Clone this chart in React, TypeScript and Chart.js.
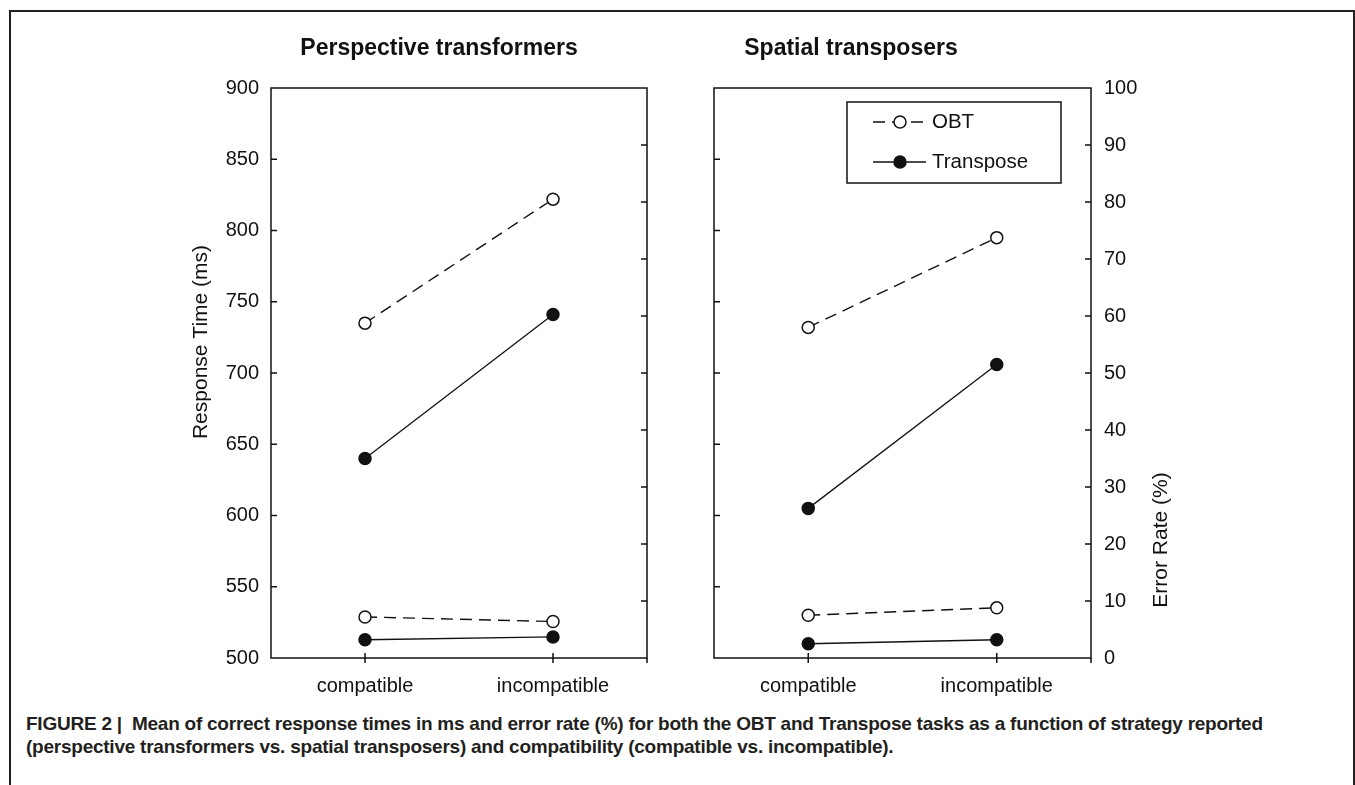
import React, { useEffect, useRef } from 'react';
import { Chart, registerables } from 'chart.js';

Chart.register(...registerables);

// ---------- data ----------
const categories = ['compatible', 'incompatible'];

// Perspective transformers
const ptObtRt = [735, 822];
const ptTransposeRt = [640, 741];
const ptObtErr = [7.2, 6.4];
const ptTransposeErr = [3.2, 3.7];

// Spatial transposers
const stObtRt = [732, 795];
const stTransposeRt = [605, 706];
const stObtErr = [7.5, 8.8];
const stTransposeErr = [2.5, 3.2];

const rtMin = 500;
const rtMax = 900;
const rtStep = 50;
const errMin = 0;
const errMax = 100;
const errStep = 10;

const panelTitles = ['Perspective transformers', 'Spatial transposers'];
const seriesNames = ['OBT', 'Transpose'];
const rtAxisTitle = 'Response Time (ms)';
const errAxisTitle = 'Error Rate (%)';
const captionLines = [
  'FIGURE 2 |  Mean of correct response times in ms and error rate (%) for both the OBT and Transpose tasks as a function of strategy reported',
  '(perspective transformers vs. spatial transposers) and compatibility (compatible vs. incompatible).',
];

// ---------- styles ----------
const INK = '#111111';
const SANS = '"Liberation Sans", Arial, Helvetica, sans-serif';
const TICK_FONT = { family: SANS, size: 20 };

const framePlugin = {
  id: 'frameTicks',
  beforeDatasetsDraw(chart: any) {
    const { ctx, chartArea: a, scales } = chart;
    ctx.save();
    ctx.strokeStyle = INK;
    ctx.lineWidth = 1.5;
    ctx.strokeRect(a.left, a.top, a.right - a.left, a.bottom - a.top);
    const tl = 6;
    ctx.beginPath();
    scales.y.ticks.forEach((t: any) => {
      const py = scales.y.getPixelForValue(t.value);
      if (py > a.top + 1 && py < a.bottom - 1) {
        ctx.moveTo(a.left, py);
        ctx.lineTo(a.left + tl, py);
      }
    });
    scales.y2.ticks.forEach((t: any) => {
      const py = scales.y2.getPixelForValue(t.value);
      if (py > a.top + 1 && py < a.bottom - 1) {
        ctx.moveTo(a.right, py);
        ctx.lineTo(a.right - tl, py);
      }
    });
    scales.x.ticks.forEach((_t: any, i: number) => {
      const px = scales.x.getPixelForTick(i);
      ctx.moveTo(px, a.bottom - 5);
      ctx.lineTo(px, a.bottom + 5);
    });
    ctx.moveTo(a.right, a.bottom);
    ctx.lineTo(a.right, a.bottom + 5);
    ctx.stroke();
    ctx.restore();
  },
};

const axisTitlePlugin = {
  id: 'axisTitleRot',
  afterDraw(chart: any, _args: any, opts: any) {
    if (!opts || !opts.text) return;
    const { ctx, chartArea: a } = chart;
    const x = opts.side === 'left' ? a.left + opts.dx : a.right + opts.dx;
    const y = a.top + opts.dy;
    ctx.save();
    ctx.translate(x, y);
    ctx.rotate(-Math.PI / 2);
    ctx.font = `21px ${SANS}`;
    ctx.fillStyle = INK;
    ctx.textAlign = 'center';
    ctx.textBaseline = 'middle';
    ctx.fillText(opts.text, 0, 0);
    ctx.restore();
  },
};

const boxLegendPlugin = {
  id: 'boxLegend',
  afterDraw(chart: any, _args: any, opts: any) {
    if (!opts || !opts.show) return;
    const { ctx, chartArea: a } = chart;
    const bx = a.left + opts.dx;
    const by = a.top + opts.dy;
    ctx.save();
    ctx.fillStyle = '#ffffff';
    ctx.fillRect(bx, by, opts.w, opts.h);
    ctx.strokeStyle = INK;
    ctx.lineWidth = 1.5;
    ctx.strokeRect(bx, by, opts.w, opts.h);
    chart.data.datasets.slice(0, 2).forEach((d: any, i: number) => {
      const cy = by + opts.rowY[i];
      ctx.strokeStyle = INK;
      ctx.setLineDash(d.borderDash || []);
      ctx.lineWidth = d.borderWidth;
      ctx.beginPath();
      ctx.moveTo(bx + 26, cy);
      ctx.lineTo(bx + 79, cy);
      ctx.stroke();
      ctx.setLineDash([]);
      ctx.beginPath();
      ctx.arc(bx + 53, cy, 6, 0, Math.PI * 2);
      ctx.fillStyle = d.pointBackgroundColor;
      ctx.fill();
      ctx.lineWidth = 1.5;
      ctx.stroke();
      ctx.fillStyle = INK;
      ctx.font = `20.5px ${SANS}`;
      ctx.textAlign = 'left';
      ctx.textBaseline = 'middle';
      ctx.fillText(d.label, bx + 85, cy);
    });
    ctx.restore();
  },
};

function makeDataset(label: string, data: number[], axis: string, dashed: boolean) {
  return {
    label,
    data,
    yAxisID: axis,
    borderColor: INK,
    borderWidth: dashed ? 1.4 : 1.3,
    borderDash: dashed ? [12, 7] : [],
    pointRadius: 6,
    pointHoverRadius: 6,
    pointBorderWidth: 1.5,
    pointBorderColor: INK,
    pointBackgroundColor: dashed ? '#ffffff' : INK,
    fill: false,
    tension: 0,
    clip: false,
  };
}

type PanelProps = {
  title: string;
  obtRt: number[];
  transposeRt: number[];
  obtErr: number[];
  transposeErr: number[];
  left: number;
  width: number;
  leftAxisW: number;
  rightAxisW: number;
  showRtLabels: boolean;
  showErrLabels: boolean;
  axisTitle: any;
  legend: any;
};

const CANVAS_H = 710;

function Panel(p: PanelProps) {
  const ref = useRef<HTMLCanvasElement>(null);
  useEffect(() => {
    const canvas = ref.current;
    if (!canvas) return;
    const chart = new Chart(canvas, {
      type: 'line',
      data: {
        labels: categories,
        datasets: [
          makeDataset(seriesNames[0], p.obtRt, 'y', true),
          makeDataset(seriesNames[1], p.transposeRt, 'y', false),
          makeDataset(seriesNames[0], p.obtErr, 'y2', true),
          makeDataset(seriesNames[1], p.transposeErr, 'y2', false),
        ],
      },
      options: {
        responsive: false,
        animation: false,
        events: [],
        layout: { padding: 0 },
        plugins: {
          legend: { display: false },
          tooltip: { enabled: false },
          title: {
            display: true,
            text: p.title,
            color: INK,
            font: { family: SANS, size: 23, weight: 'bold', lineHeight: 1.2 },
            padding: { top: 35, bottom: 25.4 },
          },
          axisTitleRot: p.axisTitle,
          boxLegend: p.legend,
        } as any,
        scales: {
          x: {
            type: 'category',
            offset: true,
            grid: { display: false, drawTicks: false },
            border: { display: false },
            ticks: { font: TICK_FONT, color: INK, padding: 16, maxRotation: 0 },
            afterFit: (s: any) => {
              s.height = 52;
            },
          },
          y: {
            position: 'left',
            min: rtMin,
            max: rtMax,
            grid: { display: false, drawTicks: false },
            border: { display: false },
            ticks: { stepSize: rtStep, display: p.showRtLabels, font: TICK_FONT, color: INK, padding: 12 },
            afterFit: (s: any) => {
              s.width = p.leftAxisW;
            },
          },
          y2: {
            position: 'right',
            min: errMin,
            max: errMax,
            grid: { display: false, drawTicks: false },
            border: { display: false },
            ticks: { stepSize: errStep, display: p.showErrLabels, font: TICK_FONT, color: INK, padding: 13 },
            afterFit: (s: any) => {
              s.width = p.rightAxisW;
            },
          },
        },
      } as any,
      plugins: [framePlugin, axisTitlePlugin, boxLegendPlugin],
    });
    return () => chart.destroy();
  }, []);
  return (
    <canvas
      ref={ref}
      width={p.width}
      height={CANVAS_H}
      style={{ position: 'absolute', left: p.left, top: 0, width: p.width, height: CANVAS_H, pointerEvents: 'none' }}
    />
  );
}

export default function App() {
  return (
    <div
      style={{
        position: 'absolute',
        left: 0,
        top: 0,
        width: 1355,
        height: 785,
        overflow: 'hidden',
        background: '#ffffff',
      }}
    >
      <div
        style={{
          position: 'absolute',
          left: 9,
          top: 10,
          width: 1346,
          height: 775,
          boxSizing: 'border-box',
          borderTop: '2px solid #231f20',
          borderLeft: '2px solid #231f20',
          borderRight: '2px solid #231f20',
        }}
      />
      <Panel
        title={panelTitles[0]}
        obtRt={ptObtRt}
        transposeRt={ptTransposeRt}
        obtErr={ptObtErr}
        transposeErr={ptTransposeErr}
        left={150}
        width={578}
        leftAxisW={121}
        rightAxisW={81}
        showRtLabels={true}
        showErrLabels={false}
        axisTitle={{ text: rtAxisTitle, side: 'left', dx: -70, dy: 254 }}
        legend={{ show: false }}
      />
      <Panel
        title={panelTitles[1]}
        obtRt={stObtRt}
        transposeRt={stTransposeRt}
        obtErr={stObtErr}
        transposeErr={stTransposeErr}
        left={522}
        width={658}
        leftAxisW={192}
        rightAxisW={89}
        showRtLabels={false}
        showErrLabels={true}
        axisTitle={{ text: errAxisTitle, side: 'right', dx: 70, dy: 452 }}
        legend={{ show: true, dx: 133, dy: 14, w: 214, h: 81, rowY: [20, 60] }}
      />
      <div
        style={{
          position: 'absolute',
          left: 26,
          top: 712,
          fontFamily: '"Liberation Sans Narrow", "Arial Narrow", "Liberation Sans", Arial, sans-serif',
          fontWeight: 'bold',
          fontSize: 19,
          letterSpacing: '-0.24px',
          lineHeight: '23px',
          color: '#231f20',
          whiteSpace: 'pre',
        }}
      >
        {captionLines.map((l, i) => (
          <div key={i}>{l}</div>
        ))}
      </div>
    </div>
  );
}
